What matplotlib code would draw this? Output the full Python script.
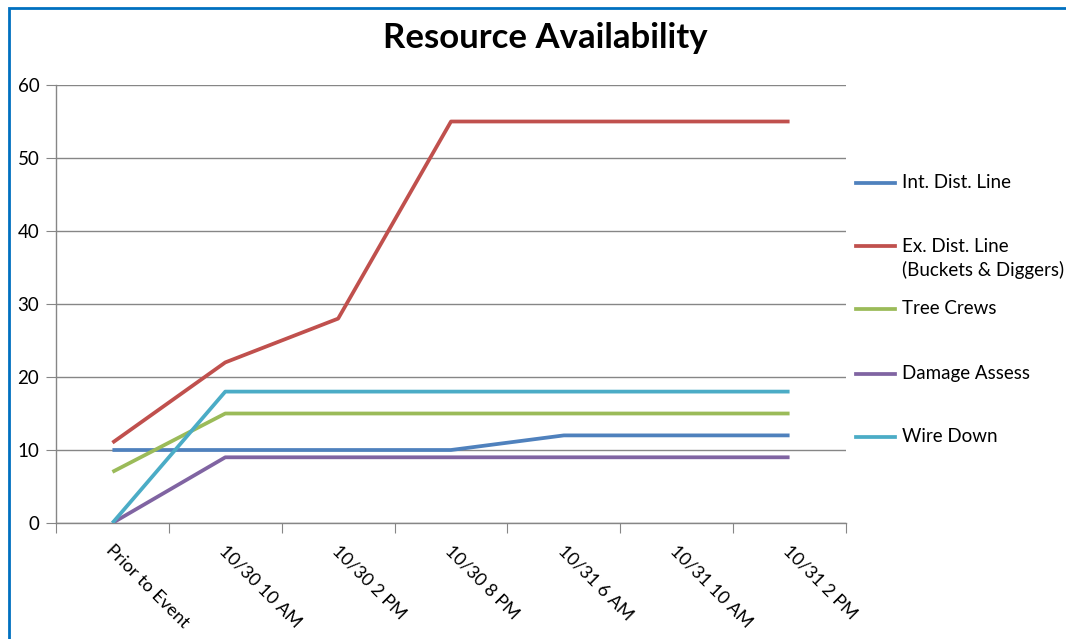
import matplotlib
matplotlib.use('Agg')
import matplotlib.pyplot as plt
from matplotlib.lines import Line2D
from matplotlib.patches import Rectangle

plt.rcParams['font.family'] = ['Lato', 'DejaVu Sans']

# Данные
categories = ["Prior to Event", "10/30 10 AM", "10/30 2 PM", "10/30 8 PM",
              "10/31 6 AM", "10/31 10 AM", "10/31 2 PM"]
int_dist = [10, 10, 10, 10, 12, 12, 12]
ex_dist = [11, 22, 28, 55, 55, 55, 55]
tree_crews = [7, 15, 15, 15, 15, 15, 15]
damage_assess = [0, 9, 9, 9, 9, 9, 9]
wire_down = [0, 18, 18, 18, 18, 18, 18]

series_names = ["Int. Dist. Line", "Ex. Dist. Line\n(Buckets & Diggers)",
                "Tree Crews", "Damage Assess", "Wire Down"]
series_values = [int_dist, ex_dist, tree_crews, damage_assess, wire_down]
colors = ["#4F81BD", "#C0504D", "#9BBB59", "#8064A2", "#4BACC6"]

W, H = 1066, 639
fig = plt.figure(figsize=(W / 100, H / 100), dpi=100)
ax = fig.add_axes([56 / W, 1 - 523 / H, (846 - 56) / W, (523 - 85) / H])

x = list(range(len(categories)))
for vals, c in zip(series_values, colors):
    ax.plot(x, vals, color=c, linewidth=2.7, solid_capstyle='butt', zorder=3)

ax.set_xlim(-0.5, len(categories) - 0.5)
ax.set_ylim(0, 60)
ax.set_yticks(range(0, 61, 10))
ax.tick_params(axis='y', labelsize=13.5, length=7, color='#868686', pad=5)
ax.grid(axis='y', color='#868686', linewidth=1, zorder=0)

# Засечки между категориями
ax.set_xticks([i - 0.5 for i in range(len(categories) + 1)])
ax.set_xticklabels([])
ax.tick_params(axis='x', length=7, color='#868686')
for i, lab in enumerate(categories):
    ax.text(i + 0.02, -2.6, lab, rotation=-45, ha='left', va='top',
            rotation_mode='anchor', fontsize=13, color='black',
            transform=ax.transData)

for s in ['top', 'right']:
    ax.spines[s].set_visible(False)
for s in ['left', 'bottom']:
    ax.spines[s].set_color('#868686')
    ax.spines[s].set_linewidth(1)

fig.text(545 / W, 1 - 38 / H, "Resource Availability", ha='center', va='center',
         fontsize=25, fontweight='bold')

# Легенда вручную
legend_y = [183, 246, 309, 374, 437]
for name, c, yy in zip(series_names, colors, legend_y):
    yf = 1 - yy / H
    fig.add_artist(Line2D([856 / W, 895 / W], [yf, yf], color=c, linewidth=2.7,
                          transform=fig.transFigure))
    for k, line in enumerate(name.split('\n')):
        fig.text(902 / W, 1 - (yy + 24 * k) / H, line, ha='left', va='center',
                 fontsize=13.5)

# Рамка
fig.add_artist(Rectangle((9 / W, -0.05), 1.2, 1 - 8 / H + 0.05, fill=False,
                         edgecolor='#0070C0', linewidth=2, transform=fig.transFigure))

plt.savefig("out.png", dpi=100)
plt.close()
